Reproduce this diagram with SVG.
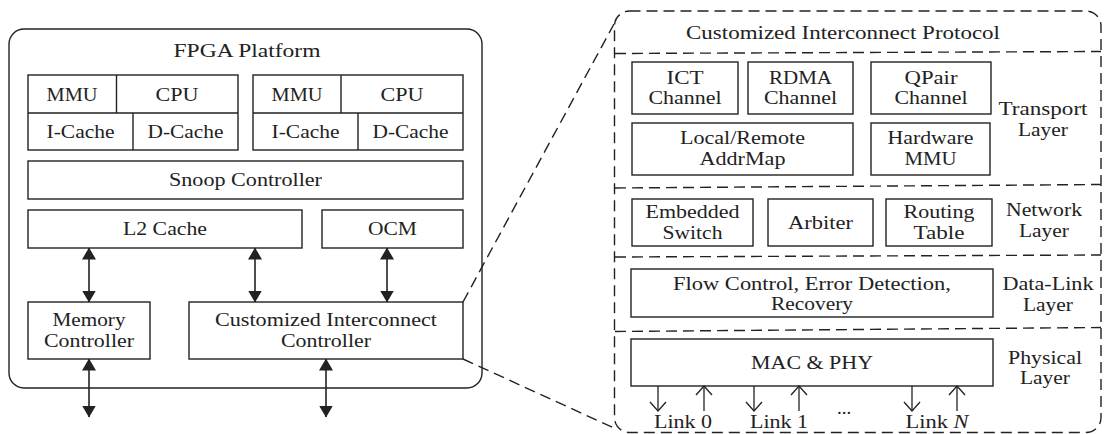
<svg xmlns="http://www.w3.org/2000/svg" width="1104" height="434" viewBox="0 0 1104 434">
<style>
text{font-family:"Liberation Serif","Times New Roman",serif;font-size:19px;fill:#222;text-anchor:middle}
.b{fill:#fff;stroke:#222;stroke-width:1.4}
.l{fill:none;stroke:#222;stroke-width:1.4}
.d{fill:none;stroke:#222;stroke-width:1.4;stroke-dasharray:11 6}
.fa{fill:none;stroke:#222;stroke-width:1.6;marker-start:url(#fh);marker-end:url(#fh)}
.oa{fill:none;stroke:#222;stroke-width:1.3;marker-end:url(#oh)}
</style>
<defs>
<marker id="fh" viewBox="0 0 12 14" refX="11.5" refY="7" markerWidth="12" markerHeight="14" orient="auto-start-reverse" markerUnits="userSpaceOnUse"><path d="M0,0 L12,7 L0,14 z" fill="#222"/></marker>
<marker id="oh" viewBox="-1 -1 12 18" refX="9" refY="8" markerWidth="12" markerHeight="18" orient="auto" markerUnits="userSpaceOnUse"><path d="M0,0 L9,8 L0,16" fill="none" stroke="#222" stroke-width="1.3"/></marker>
</defs>

<g id="fpga-platform">
<rect class="b" x="9" y="29" width="473" height="359" rx="15"/>
<text x="247" y="57" textLength="147" lengthAdjust="spacingAndGlyphs">FPGA Platform</text>
</g>

<g id="cpu-block-1">
<rect class="b" x="28" y="75" width="210" height="75"/>
<path class="l" d="M28,113 H238 M116.5,75 V113 M133,113 V150"/>
<text x="72" y="101" textLength="51" lengthAdjust="spacingAndGlyphs">MMU</text>
<text x="177" y="101" textLength="43" lengthAdjust="spacingAndGlyphs">CPU</text>
<text x="80.5" y="138" textLength="68" lengthAdjust="spacingAndGlyphs">I-Cache</text>
<text x="185.5" y="138" textLength="76" lengthAdjust="spacingAndGlyphs">D-Cache</text>
</g>

<g id="cpu-block-2">
<rect class="b" x="253" y="75" width="210" height="75"/>
<path class="l" d="M253,113 H463 M341,75 V113 M358,113 V150"/>
<text x="297" y="101" textLength="51" lengthAdjust="spacingAndGlyphs">MMU</text>
<text x="402" y="101" textLength="43" lengthAdjust="spacingAndGlyphs">CPU</text>
<text x="305.5" y="138" textLength="68" lengthAdjust="spacingAndGlyphs">I-Cache</text>
<text x="410.5" y="138" textLength="76" lengthAdjust="spacingAndGlyphs">D-Cache</text>
</g>

<g id="snoop-controller">
<rect class="b" x="28" y="161" width="435" height="38"/>
<text x="245.5" y="186" textLength="153" lengthAdjust="spacingAndGlyphs">Snoop Controller</text>
</g>

<g id="l2-cache">
<rect class="b" x="28" y="210" width="274" height="38"/>
<text x="165" y="235" textLength="84" lengthAdjust="spacingAndGlyphs">L2 Cache</text>
</g>

<g id="ocm">
<rect class="b" x="322" y="210" width="141" height="38"/>
<text x="392.5" y="235" textLength="49" lengthAdjust="spacingAndGlyphs">OCM</text>
</g>

<g id="memory-controller">
<rect class="b" x="28" y="302" width="122" height="57"/>
<text x="89" y="326" textLength="73" lengthAdjust="spacingAndGlyphs">Memory</text>
<text x="89" y="347" textLength="90" lengthAdjust="spacingAndGlyphs">Controller</text>
</g>

<g id="interconnect-controller">
<rect class="b" x="189" y="302" width="274" height="57"/>
<text x="326" y="326" textLength="222" lengthAdjust="spacingAndGlyphs">Customized Interconnect</text>
<text x="326" y="347" textLength="90" lengthAdjust="spacingAndGlyphs">Controller</text>
</g>

<g id="protocol-panel">
<rect class="d" x="614.5" y="11" width="486.5" height="421.5" rx="15"/>
<text x="843" y="39" textLength="314" lengthAdjust="spacingAndGlyphs">Customized Interconnect Protocol</text>
<path class="d" d="M615,53.5 L1101,51.5 M615,188 L1101,184.5 M615,257 L1101,255 M615,331.5 L1101,327.5"/>
</g>

<g id="ict-channel">
<rect class="b" x="632" y="62" width="106" height="52"/>
<text x="685" y="84" textLength="37" lengthAdjust="spacingAndGlyphs">ICT</text>
<text x="685" y="104" textLength="73" lengthAdjust="spacingAndGlyphs">Channel</text>
</g>
<g id="rdma-channel">
<rect class="b" x="748" y="62" width="105" height="52"/>
<text x="800.5" y="84" textLength="63" lengthAdjust="spacingAndGlyphs">RDMA</text>
<text x="800.5" y="104" textLength="73" lengthAdjust="spacingAndGlyphs">Channel</text>
</g>
<g id="qpair-channel">
<rect class="b" x="871" y="62" width="120" height="52"/>
<text x="931" y="84" textLength="53" lengthAdjust="spacingAndGlyphs">QPair</text>
<text x="931" y="104" textLength="73" lengthAdjust="spacingAndGlyphs">Channel</text>
</g>
<g id="addrmap">
<rect class="b" x="632" y="123" width="221" height="52"/>
<text x="742.5" y="144" textLength="125" lengthAdjust="spacingAndGlyphs">Local/Remote</text>
<text x="742.5" y="165" textLength="86" lengthAdjust="spacingAndGlyphs">AddrMap</text>
</g>
<g id="hardware-mmu">
<rect class="b" x="871" y="123" width="119" height="52"/>
<text x="930.5" y="144" textLength="86" lengthAdjust="spacingAndGlyphs">Hardware</text>
<text x="930.5" y="165" textLength="52" lengthAdjust="spacingAndGlyphs">MMU</text>
</g>
<g id="transport-layer">
<text x="1043" y="115" textLength="89" lengthAdjust="spacingAndGlyphs">Transport</text>
<text x="1043" y="135.5" textLength="50" lengthAdjust="spacingAndGlyphs">Layer</text>
</g>

<g id="embedded-switch">
<rect class="b" x="632" y="199" width="121" height="47"/>
<text x="692.5" y="217.5" textLength="94" lengthAdjust="spacingAndGlyphs">Embedded</text>
<text x="692.5" y="238.5" textLength="60" lengthAdjust="spacingAndGlyphs">Switch</text>
</g>
<g id="arbiter">
<rect class="b" x="768" y="199" width="105" height="47"/>
<text x="820.5" y="229" textLength="65" lengthAdjust="spacingAndGlyphs">Arbiter</text>
</g>
<g id="routing-table">
<rect class="b" x="886" y="199" width="106" height="47"/>
<text x="939" y="218" textLength="71" lengthAdjust="spacingAndGlyphs">Routing</text>
<text x="939" y="239" textLength="51" lengthAdjust="spacingAndGlyphs">Table</text>
</g>
<g id="network-layer">
<text x="1044" y="215.5" textLength="76" lengthAdjust="spacingAndGlyphs">Network</text>
<text x="1044" y="236.5" textLength="50" lengthAdjust="spacingAndGlyphs">Layer</text>
</g>

<g id="flow-control">
<rect class="b" x="631" y="269" width="362" height="48"/>
<text x="812" y="289.5" textLength="278" lengthAdjust="spacingAndGlyphs">Flow Control, Error Detection,</text>
<text x="812" y="310" textLength="82" lengthAdjust="spacingAndGlyphs">Recovery</text>
</g>
<g id="data-link-layer">
<text x="1048" y="290" textLength="91" lengthAdjust="spacingAndGlyphs">Data-Link</text>
<text x="1048" y="310.5" textLength="50" lengthAdjust="spacingAndGlyphs">Layer</text>
</g>

<g id="mac-phy">
<rect class="b" x="631" y="339" width="362" height="47"/>
<text x="812" y="368.5" textLength="122" lengthAdjust="spacingAndGlyphs">MAC &amp; PHY</text>
</g>
<g id="physical-layer">
<text x="1045" y="363.5" textLength="74" lengthAdjust="spacingAndGlyphs">Physical</text>
<text x="1045" y="383.5" textLength="50" lengthAdjust="spacingAndGlyphs">Layer</text>
</g>

<g id="links">
<text x="683" y="428" textLength="58" lengthAdjust="spacingAndGlyphs">Link 0</text>
<text x="779" y="428" textLength="58" lengthAdjust="spacingAndGlyphs">Link 1</text>
<text x="844" y="414">...</text>
<text x="937" y="428" textLength="63" lengthAdjust="spacingAndGlyphs">Link <tspan font-style="italic">N</tspan></text>
</g>

<g id="connectors">
<path class="fa" d="M89,248 V302"/>
<path class="fa" d="M255,248 V302"/>
<path class="fa" d="M387,248 V302"/>
<path class="fa" d="M89,359 V417"/>
<path class="fa" d="M326,359 V417"/>
<path class="oa" d="M658,386 V411"/>
<path class="oa" d="M704,411 V386"/>
<path class="oa" d="M754,386 V411"/>
<path class="oa" d="M799,411 V386"/>
<path class="oa" d="M912,386 V411"/>
<path class="oa" d="M957,411 V386"/>
<path class="d" d="M463,302 L614,24"/>
<path class="d" d="M463,359 L614,428"/>
</g>
</svg>
